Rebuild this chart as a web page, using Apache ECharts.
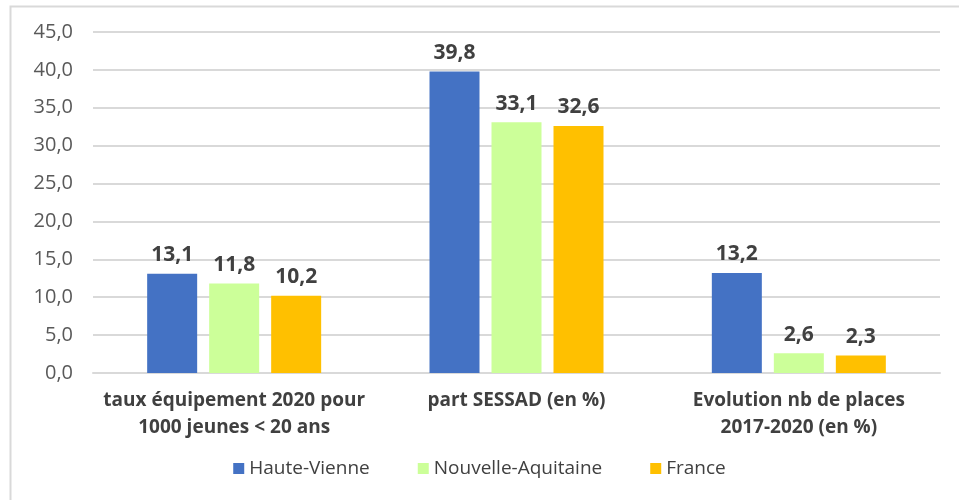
<!DOCTYPE html>
<html><head><meta charset="utf-8">
<script src="https://cdn.jsdelivr.net/npm/echarts@6/dist/echarts.min.js"></script>
<style>html,body{margin:0;padding:0;background:#fff}#c{width:959px;height:500px}</style>
</head><body><div id="c"></div>
<script>
const categories = ["taux équipement 2020 pour\n1000 jeunes < 20 ans", "part SESSAD (en %)", "Evolution nb de places\n2017-2020 (en %)"];
const hauteVienne = [13.1, 39.8, 13.2];
const nouvelleAquitaine = [11.8, 33.1, 2.6];
const france = [10.2, 32.6, 2.3];
const seriesNames = ["Haute-Vienne", "Nouvelle-Aquitaine", "France"];
const colors = ["#4472C4", "#CCFF99", "#FFC000"];

const fmt = v => v.toFixed(1).replace('.', ',');
const font = "'Open Sans', 'Noto Sans', sans-serif";
const chart = echarts.init(document.getElementById('c'));
const mk = (name, data, color) => ({
  name, type: 'bar', data, barWidth: 50, barGap: '24%',
  itemStyle: { color },
  label: { show: true, position: 'top', distance: 8, formatter: p => fmt(p.value),
    fontFamily: font, fontWeight: 'bold', fontSize: 21, color: '#404040' }
});
chart.setOption({
  animation: false,
  graphic: [{ type: 'rect', shape: { x: 10.5, y: 6.5, width: 1000, height: 600 },
    style: { fill: 'none', stroke: '#d9d9d9', lineWidth: 2 } }],
  grid: { left: 93, right: 19, top: 32, bottom: 127 },
  legend: { bottom: 17, left: 'center', itemWidth: 11, itemHeight: 11, itemGap: 48,
    icon: 'rect', textStyle: { fontFamily: font, fontSize: 19, color: '#404040' },
    data: seriesNames },
  xAxis: { type: 'category', data: categories,
    axisLine: { lineStyle: { color: '#d9d9d9', width: 2 } }, axisTick: { show: false },
    axisLabel: { interval: 0, hideOverlap: false, fontFamily: font, fontWeight: 'bold', fontSize: 19, color: '#404040',
      lineHeight: 27, margin: 14 } },
  yAxis: { type: 'value', min: 0, max: 45, interval: 5,
    axisLabel: { formatter: v => fmt(v), fontFamily: font, fontSize: 20, color: '#595959', margin: 20 },
    splitLine: { lineStyle: { color: '#d9d9d9', width: 2 } },
    axisLine: { show: false }, axisTick: { show: false } },
  series: [mk(seriesNames[0], hauteVienne, colors[0]), mk(seriesNames[1], nouvelleAquitaine, colors[1]), mk(seriesNames[2], france, colors[2])]
});
</script></body></html>
